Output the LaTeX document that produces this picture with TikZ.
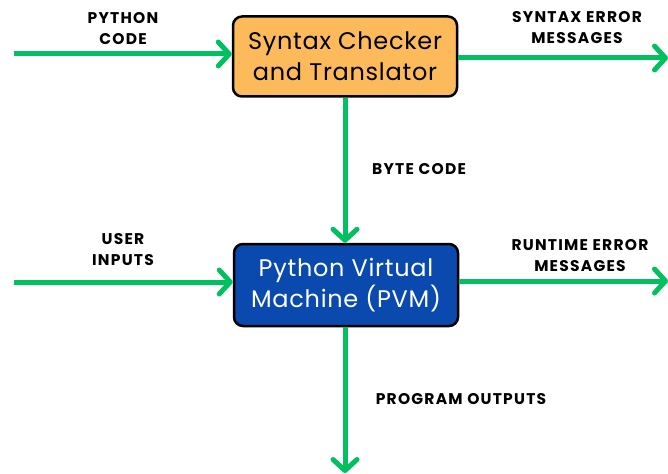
\documentclass[tikz,border=0pt]{standalone}
\usepackage{fontspec}
\setmainfont{Poppins}
\newfontfamily\lblfont[LetterSpace=8]{Poppins}
\newfontfamily\boxfont[LetterSpace=3]{Poppins}
\usetikzlibrary{arrows.meta}
\definecolor{flowgreen}{HTML}{00C060}
\definecolor{boxorange}{HTML}{FDBA5A}
\definecolor{boxblue}{HTML}{0A4AAE}
\begin{document}
\begin{tikzpicture}[x=1pt,y=-1pt,
  flow/.style={draw=flowgreen,line width=5pt,-{Straight Barb[length=11pt,width=24pt,line width=5pt,round]}},
  procbox/.style={draw=black,line width=2.5pt,rounded corners=9pt,minimum width=224pt,minimum height=80pt,inner sep=0pt,align=center,font=\boxfont\fontsize{24}{31}\selectfont},
  lbl/.style={font=\lblfont\fontsize{15.5}{21}\selectfont\bfseries,align=center,inner sep=0pt}]
\useasboundingbox (0,0) rectangle (668,473);
\node[procbox,fill=boxorange] (stc) at (345,56.5) {Syntax Checker\\and Translator};
\node[procbox,fill=boxblue,text=white,minimum height=82pt] (pvm) at (346,285) {Python Virtual\\Machine (PVM)};
\coordinate (in1) at (14,54);
\coordinate (out1) at (668,58);
\coordinate (in2) at (14,282);
\coordinate (out2) at (668,281);
\coordinate (outb) at (345,473);
\draw[flow] (in1) -- (stc.west |- in1);
\draw[flow] (stc.east |- out1) -- (out1);
\draw[flow] (stc.south -| 345,0) -- (pvm.north -| 345,0);
\draw[flow] (in2) -- (pvm.west |- in2);
\draw[flow] (pvm.east |- out2) -- (out2);
\draw[flow] (pvm.south -| 345,0) -- (outb);
\node[lbl] (l1) at (123,29) {PYTHON\\CODE};
\node[lbl] (l2) at (577,28) {SYNTAX ERROR\\MESSAGES};
\node[lbl] (l3) at (419,169) {BYTE CODE};
\node[lbl] (l4) at (123,250) {USER\\INPUTS};
\node[lbl] (l5) at (580,256) {RUNTIME ERROR\\MESSAGES};
\node[lbl] (l6) at (461,399) {PROGRAM OUTPUTS};
\end{tikzpicture}
\end{document}
